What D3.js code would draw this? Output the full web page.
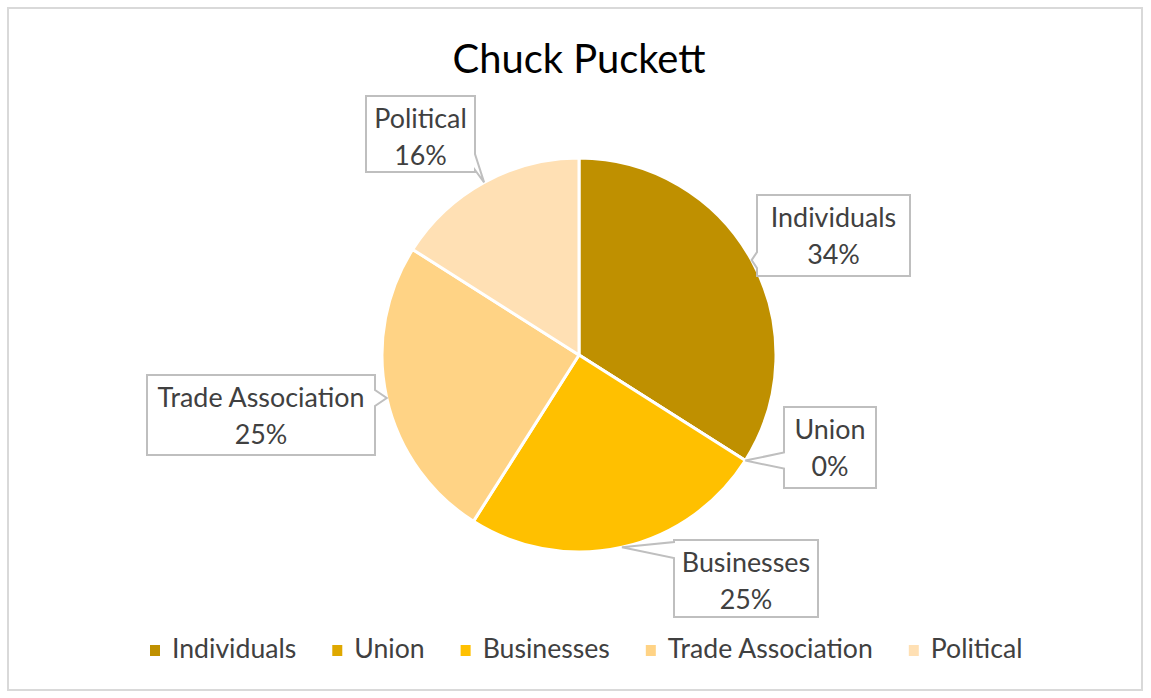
<!DOCTYPE html>
<html>
<head>
<meta charset="utf-8">
<script src="https://cdn.jsdelivr.net/npm/d3@7"></script>
<style>
  html, body { margin: 0; padding: 0; background: #fff; }
  svg { display: block; }
</style>
</head>
<body>
<svg id="chart" width="1151" height="698"></svg>
<script>
// ---- data ----
const title = "Chuck Puckett";
const categories = ["Individuals", "Union", "Businesses", "Trade Association", "Political"];
const values = [34, 0, 25, 25, 16];
const colors = ["#BF9000", "#DFA800", "#FFC000", "#FFD385", "#FFE0B4"];

// ---- layout (label boxes [x0, y0, x1, y1], not data) ----
const labelBoxes = [
  [757, 195, 910, 276],
  [784, 407, 876, 488],
  [674, 540, 818, 617],
  [147, 375, 375, 455],
  [366, 96, 475, 172]
];

const W = 1151, H = 698;
const font = "Lato, 'Open Sans', sans-serif";
const svg = d3.select("#chart");

const measure = svg.append("text").attr("font-family", font).attr("font-size", 20).attr("visibility", "hidden");
function tw(s, size) { measure.attr("font-size", size).text(s); return measure.node().getComputedTextLength(); }
// choose size so that a reference string has the target width (to mimic Calibri metrics)
function fit(s, target) { return 20 * target / tw(s, 20); }

const titleSize = fit(title, 253);
const lblFont = fit("Trade Association", 207);
const legFont = fit("Trade Association", 205);

// outer border
svg.append("rect").attr("x", 8).attr("y", 8).attr("width", W - 17).attr("height", H - 16)
  .attr("fill", "#fff").attr("stroke", "#d9d9d9").attr("stroke-width", 2);

// title
svg.append("text").attr("x", 579).attr("y", 73).attr("text-anchor", "middle")
  .attr("font-family", font).attr("font-size", titleSize).attr("fill", "#000").text(title);

const cx = 579, cy = 355, R = 197;
const total = d3.sum(values);
const pie = d3.pie().sort(null).value(d => d.v);
const arcs = pie(categories.map((c, i) => ({ c, v: values[i], i })));
const arc = d3.arc().innerRadius(0).outerRadius(R);

const g = svg.append("g").attr("transform", `translate(${cx},${cy})`);
g.selectAll("path.slice").data(arcs).enter().append("path")
  .attr("class", "slice").attr("d", arc)
  .attr("fill", d => colors[d.data.i])
  .attr("stroke", "#fff").attr("stroke-width", 3).attr("stroke-linejoin", "round");

// callouts
arcs.forEach(d => {
  const i = d.data.i;
  const mid = (d.startAngle + d.endAngle) / 2;
  const ax = cx + R * Math.sin(mid), ay = cy - R * Math.cos(mid);
  const pct = Math.round(d.data.v / total * 100) + "%";
  const [x0, y0, x1, y1] = labelBoxes[i];
  const bx = (x0 + x1) / 2;
  const half = 8;
  let p;
  const clamp = (v, a, b) => Math.max(a, Math.min(b, v));
  if (ax < x0) { // left side
    const m = clamp(ay, y0 + half + 2, y1 - half - 2);
    p = [[x0, y0], [x1, y0], [x1, y1], [x0, y1], [x0, m + half], [ax, ay], [x0, m - half]];
  } else if (ax > x1) { // right side
    const m = clamp(ay, y0 + half + 2, y1 - half - 2);
    p = [[x0, y0], [x1, y0], [x1, m - half], [ax, ay], [x1, m + half], [x1, y1], [x0, y1]];
  } else if (ay > y1) { // bottom
    const m = clamp(ax, x0 + half + 2, x1 - half - 2);
    p = [[x0, y0], [x1, y0], [x1, y1], [m + half, y1], [ax, ay], [m - half, y1], [x0, y1]];
  } else { // top
    const m = clamp(ax, x0 + half + 2, x1 - half - 2);
    p = [[x0, y0], [m - half, y0], [ax, ay], [m + half, y0], [x1, y0], [x1, y1], [x0, y1]];
  }
  svg.append("path").attr("d", "M" + p.map(q => q.join(",")).join("L") + "Z")
    .attr("fill", "#fff").attr("stroke", "#bfbfbf").attr("stroke-width", 2)
    .attr("stroke-linejoin", "miter");
  const t = svg.append("text").attr("text-anchor", "middle").attr("font-family", font)
    .attr("font-size", lblFont).attr("fill", "#404040");
  t.append("tspan").attr("x", bx).attr("y", y0 + 32).text(categories[i]);
  t.append("tspan").attr("x", bx).attr("y", y0 + 69).text(pct);
});

// legend
const gap = 36;
let lx = 150;
const leg = svg.append("g");
categories.forEach((c, i) => {
  leg.append("rect").attr("x", lx).attr("y", 645).attr("width", 10).attr("height", 11)
    .attr("fill", colors[i]);
  leg.append("text").attr("x", lx + 22).attr("y", 658).attr("font-family", font)
    .attr("font-size", legFont).attr("fill", "#404040").text(c);
  lx += 22 + tw(c, legFont) + gap;
});
measure.remove();
</script>
</body>
</html>
